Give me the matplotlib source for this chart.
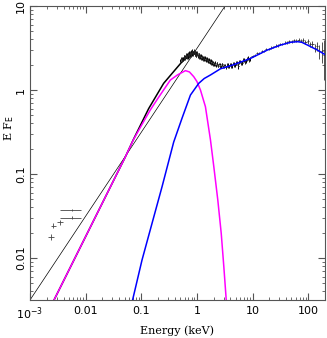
import matplotlib
matplotlib.use("Agg")
import matplotlib.pyplot as plt
import numpy as np

# power law (thin line)
pl_E = [1e-3, 3.2]
pl_F = [0.00316, 10.0]

# total model below the data
tot_E = [0.0027, 0.0515, 0.0718, 0.1355, 0.252, 0.40, 0.54, 0.70, 0.86, 1.0]
tot_F = [0.00316, 0.159, 0.256, 0.60, 1.20, 1.72, 2.17, 2.50, 2.70, 2.64]

# disc component (magenta)
mag_E = [0.0027, 0.0515, 0.0718, 0.104, 0.145, 0.2, 0.333, 0.446, 0.621, 0.733,
         0.876, 1.0, 1.156, 1.24, 1.42, 1.75, 2.01, 2.37, 2.73, 3.04, 3.36]
mag_F = [0.00316, 0.159, 0.254, 0.394, 0.578, 0.80, 1.315, 1.51, 1.70, 1.64,
         1.44, 1.26, 1.0, 0.855, 0.633, 0.254, 0.122, 0.049, 0.0197, 0.0079, 0.00316]

# comptonised component (blue)
blu_E = [0.0697, 0.103, 0.156, 0.236, 0.382, 0.541, 0.764, 1.077, 1.35, 1.75, 2.65,
         4.37, 9.2, 18.4, 32.0, 48.4, 63.8, 76.4, 96.6, 146.0, 206.0]
blu_F = [0.00316, 0.00946, 0.0259, 0.0706, 0.240, 0.464, 0.871, 1.20, 1.37, 1.51, 1.79,
         1.98, 2.38, 2.99, 3.43, 3.70, 3.76, 3.70, 3.43, 2.99, 2.61]

# soft X-ray data (two interleaved sets)
soft_E = [0.50, 0.53, 0.56, 0.59, 0.62, 0.65, 0.68, 0.71, 0.74, 0.77, 0.80, 0.83, 0.86,
          0.89, 0.92, 0.95, 0.98, 1.01, 1.05, 1.09, 1.13, 1.17, 1.22, 1.27, 1.32, 1.37,
          1.43, 1.49, 1.55, 1.62, 1.69, 1.76, 1.84, 1.92, 2.01, 2.10, 2.20, 2.31, 2.43,
          2.56, 2.70, 2.85, 3.01, 3.18, 3.36, 3.56, 3.78, 4.02, 4.28, 4.56, 4.87, 5.21,
          5.58, 6.0, 6.5, 7.0, 7.6, 8.3, 9.0]
soft_F = [2.25, 2.38, 2.33, 2.52, 2.45, 2.62, 2.50, 2.74, 2.60, 2.82, 2.66, 2.95, 2.74,
          2.88, 2.66, 2.80, 2.60, 2.72, 2.52, 2.63, 2.44, 2.55, 2.36, 2.47, 2.31, 2.42,
          2.25, 2.36, 2.20, 2.30, 2.12, 2.23, 2.06, 2.16, 2.00, 2.11, 1.96, 2.06, 1.93,
          2.04, 1.90, 2.02, 1.88, 1.99, 1.87, 2.00, 1.90, 2.03, 1.93, 2.06, 1.96, 2.12,
          1.92, 2.18, 2.10, 2.28, 2.21, 2.40, 2.33]
soft_err = [0.10, 0.11, 0.12, 0.12, 0.13, 0.14, 0.13, 0.15, 0.14, 0.15, 0.15, 0.16, 0.15,
            0.15, 0.15, 0.14, 0.14, 0.13, 0.12, 0.12, 0.12, 0.11, 0.11, 0.10, 0.10, 0.10,
            0.09, 0.09, 0.09, 0.09, 0.08, 0.08, 0.08, 0.08, 0.08, 0.08, 0.07, 0.07, 0.07,
            0.07, 0.07, 0.07, 0.07, 0.07, 0.07, 0.08, 0.08, 0.08, 0.08, 0.09, 0.09, 0.10,
            0.12, 0.10, 0.11, 0.12, 0.12, 0.14, 0.14]

soft_E2 = [0.515, 0.545, 0.575, 0.605, 0.635, 0.665, 0.695, 0.725, 0.755, 0.785, 0.815,
           0.845, 0.875, 0.905, 0.935, 0.965, 0.995, 1.03, 1.07, 1.11, 1.15, 1.195, 1.245,
           1.295, 1.345, 1.40, 1.46, 1.52, 1.585, 1.655, 1.725, 1.80, 1.88, 1.965, 2.055,
           2.15, 2.255, 2.37, 2.495, 2.63, 2.775, 2.93, 3.095, 3.27, 3.46, 3.67, 3.90,
           4.15, 4.42, 4.715, 5.04, 5.395, 5.79, 6.25, 6.75, 7.3, 7.95, 8.65]
soft_F2 = [2.36, 2.30, 2.47, 2.41, 2.58, 2.49, 2.68, 2.57, 2.76, 2.64, 2.84, 2.70, 2.90,
           2.70, 2.83, 2.64, 2.76, 2.57, 2.66, 2.47, 2.56, 2.39, 2.49, 2.33, 2.43, 2.28,
           2.37, 2.22, 2.31, 2.15, 2.24, 2.09, 2.17, 2.03, 2.10, 1.98, 2.07, 1.95, 2.05,
           1.92, 2.02, 1.90, 1.99, 1.88, 1.99, 1.89, 2.01, 1.92, 2.05, 1.95, 2.11, 2.00,
           2.17, 2.07, 2.26, 2.16, 2.37, 2.29]
soft_err2 = [0.11, 0.12, 0.12, 0.13, 0.14, 0.14, 0.15, 0.14, 0.15, 0.16, 0.15, 0.16, 0.16,
             0.15, 0.14, 0.14, 0.13, 0.13, 0.12, 0.12, 0.11, 0.11, 0.10, 0.10, 0.10, 0.09,
             0.09, 0.09, 0.08, 0.08, 0.08, 0.08, 0.08, 0.08, 0.07, 0.07, 0.07, 0.07, 0.07,
             0.07, 0.07, 0.07, 0.07, 0.07, 0.08, 0.08, 0.08, 0.08, 0.09, 0.09, 0.10, 0.10,
             0.11, 0.11, 0.12, 0.12, 0.13, 0.14]

# hard X-ray data
hard_E = [10.0, 11.0, 12.1, 13.3, 14.6, 16.0, 17.6, 19.4, 21.3, 23.4, 25.8, 28.4, 31.2,
          34.3, 37.8, 41.5, 45.7, 50.3, 55.3, 60.8, 66.9, 73.6, 81.0, 89.1, 98.0, 108,
          119, 131, 144, 158, 174, 191]
hard_F = [2.55, 2.58, 2.74, 2.76, 2.92, 2.93, 3.07, 3.06, 3.20, 3.23, 3.38, 3.40, 3.53,
          3.55, 3.66, 3.68, 3.80, 3.79, 3.92, 3.86, 3.97, 3.88, 3.93, 3.74, 3.78, 3.50,
          3.56, 3.20, 3.35, 2.90, 2.90, 2.60]
hard_err = [0.07, 0.07, 0.08, 0.08, 0.09, 0.09, 0.10, 0.10, 0.10, 0.11, 0.11, 0.12, 0.12,
            0.12, 0.13, 0.13, 0.14, 0.14, 0.15, 0.16, 0.17, 0.18, 0.20, 0.22, 0.24, 0.27,
            0.30, 0.35, 0.42, 0.55, 0.80, 1.30]

# optical / UV points
opt_E = [0.00239, 0.00263, 0.00347, 0.00564, 0.00564]
opt_F = [0.0179, 0.0243, 0.0266, 0.0302, 0.0373]
opt_lo = [0.00214, 0.00236, 0.0031, 0.00347, 0.00347]
opt_hi = [0.00268, 0.00295, 0.0039, 0.0082, 0.0082]
opt_err = [0.0014, 0.0018, 0.0019, 0.0012, 0.0012]

fig = plt.figure(figsize=(3.27, 3.38), dpi=100)
ax = fig.add_axes([30/327, 1-300/338, 295/327, 294/338])
ax.set_xscale('log')
ax.set_yscale('log')

ax.plot(pl_E, pl_F, color='black', lw=0.5)
ax.plot(tot_E, tot_F, color='black', lw=1.1)

sE = np.array(soft_E)
ax.errorbar(sE, soft_F, yerr=soft_err, xerr=sE*0.015, fmt='none',
            ecolor='black', elinewidth=0.7)
sE2 = np.array(soft_E2)
ax.errorbar(sE2, soft_F2, yerr=soft_err2, xerr=sE2*0.015, fmt='none',
            ecolor='#222222', elinewidth=0.7)
hE = np.array(hard_E)
ax.errorbar(hE, hard_F, yerr=hard_err, xerr=hE*0.045, fmt='none',
            ecolor='#333333', elinewidth=0.6)

oE = np.array(opt_E)
xerr = [oE - np.array(opt_lo), np.array(opt_hi) - oE]
ax.errorbar(oE, opt_F, yerr=opt_err, xerr=xerr, fmt='none',
            ecolor='#444444', elinewidth=0.6)

ax.plot(mag_E, mag_F, color='#ff00ff', lw=1.1)
ax.plot(blu_E, blu_F, color='#0000ff', lw=1.1)

ax.set_xlim(1e-3, 200)
ax.set_ylim(10**-2.5, 10)

for s in ax.spines.values():
    s.set_color('#555555')
    s.set_linewidth(0.8)
ax.tick_params(which='both', direction='in', top=True, right=True,
               color='#555555', labelsize=8)
ax.tick_params(which='major', length=5)
ax.tick_params(which='minor', length=2.5)

ax.set_xticks([1e-3, 0.01, 0.1, 1, 10, 100])
ax.set_xticklabels(['$10^{-3}$', '0.01', '0.1', '1', '10', '100'])
ax.set_yticks([0.01, 0.1, 1, 10])
ax.set_yticklabels(['0.01', '0.1', '1', '10'], rotation=90, va='center')
ax.tick_params(axis='x', pad=4)
ax.tick_params(axis='y', pad=3)

ax.set_xlabel('Energy (keV)', family='DejaVu Serif', fontsize=8)
ax.xaxis.set_label_coords(0.5, -0.105)
ax.xaxis.label.set_va('center')
fig.text(9/327, 1-128/338, r'E F$_\mathrm{E}$', rotation=90, family='DejaVu Serif',
         fontsize=8, ha='center', va='center')

fig.savefig('out.png', dpi=100)
